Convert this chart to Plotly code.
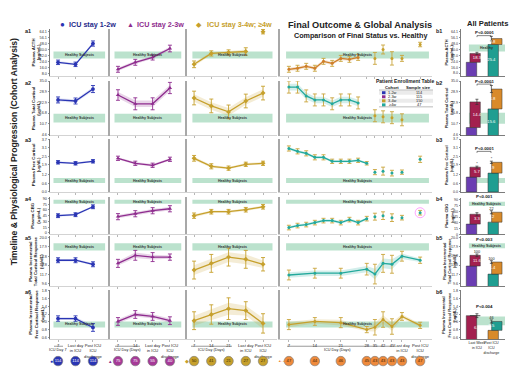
import plotly.graph_objects as go

W, H = 509, 371
FONT = "Liberation Sans"

BLUE = "#2a35b4"
PURPLE = "#8e2c8e"
GOLD = "#c6a02c"
ORANGE = "#cf7f2a"
TEAL = "#23a99c"
ERRGOLD = "#c9a53c"
CRIMSON = "#a3204f"
BARPURPLE = "#6a3db2"
BARTEAL = "#1f9e91"
BARORANGE = "#d98a2a"
BANDFILL = "rgba(150, 210, 178, 0.65)"

# ---------------- categories / ticks ----------------
x_12w = [0, 1, 2]
x_23w = [0, 1, 2, 3]
x_34w = [0, 1, 2, 3, 4]
x_final_early = [7, 9.33, 11.67, 14, 16.33, 18.67, 21, 23.33, 25.67, 28]
x_final_late = [30.2, 32.4, 34.8, 37.5, 42.4]
x_final_all = [7, 14, 21, 28, 30.2, 32.4, 34.8, 37.5, 42.4]

ticks_12w = ["7", "Last day<br>in ICU", "Post ICU<br>ICU<br>discharge"]
ticks_23w = ["7", "14", "Last day<br>in ICU", "Post ICU<br>ICU<br>discharge"]
ticks_34w = ["7", "14", "21", "Last day<br>in ICU", "Post ICU<br>ICU<br>discharge"]
ticks_final = ["7", "14", "21", "28", "35", "42", "45", "Last day<br>in ICU", "Post ICU<br>ICU<br>discharge"]
bar_categories = ["Last Week<br>in ICU", "Post ICU<br>ICU<br>discharge"]

# ---------------- a1: Plasma ACTH ----------------
acth_12w = [22.7, 20.0, 48.0]
acth_12w_err = [3, 3, 3.5]
acth_23w = [13.3, 22.7, 29.3, 41.3]
acth_23w_err = [4, 4, 3.5, 4.5]
acth_34w = [20.0, 34.7, 36.0, 37.3, 64.0]
acth_34w_err = [4.5, 3.5, 3.5, 5, 3]
acth_final = [13.3, 14.7, 17.3, 14.7, 24.0, 21.3, 28.0, 26.7, 29.3]
acth_final_err = [4, 4, 4, 4, 4, 4, 4, 4, 4]
acth_late = [28.0, 40.0, 28.0, 28.0, 46.7]
acth_late_err = [8, 6, 9, 4, 3]
acth_band = [28.0, 37.3]

# ---------------- a2: Plasma Total Cortisol ----------------
tc_12w = [24.3, 23.7, 30.5]
tc_12w_err = [1.7, 1.7, 2.0]
tc_23w = [27.1, 22.1, 22.1, 31.1]
tc_23w_err = [3.0, 3.4, 3.4, 3.2]
tc_34w = [25.4, 20.9, 17.5, 23.7, 28.2]
tc_34w_err = [3.9, 3.9, 3.9, 3.9, 3.9]
tc_final = [31.6, 31.6, 26.6, 24.3, 24.3, 22.1, 24.3, 24.3, 22.6]
tc_final_err = [3.4, 3.4, 3.4, 3.4, 3.4, 3.4, 3.4, 3.4, 3.4]
tc_late = [15.3, 14.7, 14.2, 13.0]
tc_late_err = [3.4, 3.4, 3.4, 3.4]
tc_band = [11.4, 16.4]

# ---------------- a3: Plasma Free Cortisol ----------------
fc_12w = [2.08, 2.01, 2.15]
fc_12w_err = [0.12, 0.12, 0.12]
fc_23w = [2.36, 2.01, 1.87, 2.29]
fc_23w_err = [0.15, 0.15, 0.15, 0.15]
fc_34w = [2.36, 1.80, 1.67, 1.94, 2.01]
fc_34w_err = [0.2, 0.18, 0.15, 0.15, 0.15]
fc_final = [3.05, 2.85, 2.71, 2.43, 2.43, 2.15, 2.15, 2.15, 2.22, 2.01]
fc_final_err = [0.18, 0.18, 0.18, 0.18, 0.18, 0.15, 0.15, 0.15, 0.15, 0.12]
fc_late = [1.39, 1.46, 1.32, 1.39, 2.29]
fc_late_err = [0.18, 0.28, 0.2, 0.15, 0.22]
fc_band = [0.63, 0.97]

# ---------------- a4: Plasma CBG ----------------
cbg_12w = [45.0, 47.6, 68.2]
cbg_12w_err = [5, 5, 5]
cbg_23w = [42.4, 50.1, 57.9, 63.0]
cbg_23w_err = [8, 8, 8, 8]
cbg_34w = [45.0, 55.3, 55.3, 60.5, 68.2]
cbg_34w_err = [7, 6, 6, 6, 6]
cbg_final = [14.0, 19.2, 21.8, 26.9, 32.1, 32.1, 26.9, 34.7, 26.9, 37.2]
cbg_final_err = [6, 6, 6, 6, 6, 6, 6, 6, 6, 6]
cbg_late = [42.4, 45.0, 39.8, 39.8, 52.7]
cbg_late_err = [9, 10, 10, 6, 6]
cbg_band = [75.9, 86.3]

# ---------------- a5: Incremental Total Cortisol Response ----------------
itc_12w = [14.9, 14.9, 14.0]
itc_12w_err = [0.55, 0.55, 0.55]
itc_23w = [14.2, 16.0, 15.6, 15.6]
itc_23w_err = [0.9, 1.1, 1.0, 0.7]
itc_34w = [12.7, 14.2, 15.6, 15.1, 14.0]
itc_34w_err = [2.0, 2.0, 2.0, 2.0, 1.5]
itc_final = [11.6, 12.0, 12.0, 12.9, 11.8, 14.2, 14.0, 15.8, 14.9]
itc_final_err = [1.1, 1.1, 1.1, 1.3, 2.2, 2.0, 2.0, 1.1, 0.7]
itc_band = [17.1, 18.7]

# ---------------- a6: Incremental Free Cortisol Response ----------------
ifc_12w = [1.085, 1.085, 0.855]
ifc_12w_err = [0.07, 0.07, 0.1]
ifc_23w = [1.01, 1.19, 1.14, 1.03]
ifc_23w_err = [0.1, 0.1, 0.1, 0.1]
ifc_34w = [1.03, 1.19, 1.34, 1.29, 0.96]
ifc_34w_err = [0.23, 0.25, 0.28, 0.23, 0.25]
ifc_final = [0.93, 1.01, 0.98, 0.80, 0.86, 1.06, 0.88, 1.14, 0.91]
ifc_final_err = [0.13, 0.1, 0.13, 0.08, 0.2, 0.2, 0.2, 0.1, 0.08]
ifc_band = [0.855, 1.01]

# ---------------- b: All patients bars ----------------
bar_last_week_lower = [22.7, 8.6, 1.04, 27.0, 13.6, 1.16]
bar_last_week_top = [34.7, 23.2, 1.74, 52.7, 16.0, 1.16]
bar_last_week_err = [1.5, 1.5, 0.07, 4, 0.3, 0.05]
bar_post_lower = [46.7, 19.2, 1.32, 32.1, 11.8, 0.78]
bar_post_top = [54.7, 30.5, 2.08, 57.9, 14.5, 1.01]
bar_post_err = [3, 2, 0.08, 4, 0.3, 0.04]
bar_last_week_labels = ["18.3", "14.4", "5.7", "3.3", "11.6", "6.3"]
bar_post_upper_labels = ["22.8", "21.8", "5.9", "4.2", "11.4", "5.5"]
bar_post_lower_labels = ["25.4", "15.6", "", "", "", ""]
bar_marks_last = ["", "", "*", "", "100", ""]
bar_marks_post = ["*", "*", "*", "22", "100", "46"]
p_values = ["P<0.0001", "P<0.0001", "P<0.0001", "P<0.001", "P<0.003", "P<0.004"]
b_bands = [[37.3, 46.7], [10.8, 17.0], [0.63, 0.97], [74.0, 85.0], [17.6, 18.7], [0.91, 1.14]]
b_band_labels = ["Healthy", "", "", "Healthy Subjects", "Healthy Subjects", ""]

# ---------------- sample sizes ----------------
n_12w = ["114", "114", "114"]
n_23w = ["75", "75", "55", "40"]
n_34w = ["50", "41", "21", "27", "27"]
n_final = ["47", "44", "46", "45", "43", "43", "43", "43", "47"]

enroll_cohorts = ["1-2w", "2-3w", "3-4w", "≥4w"]
enroll_sizes = ["114", "115", "150", "47"]

row_ids = ["a1", "a2", "a3", "a4", "a5", "a6"]
row_titles = ["Plasma ACTH<br>(pg/mL)", "Plasma Total Cortisol<br>(ug/dL)", "Plasma Free Cortisol<br>(ug/dL)",
              "Plasma CBG<br>(ug/mL)", "Plasma Incremental<br>Total Cortisol Response<br>(ug/dL)",
              "Plasma Incremental<br>Free Cortisol Response<br>(ug/dL)"]
b_titles = ["Plasma ACTH<br>(pg/mL)", "Plasma Total Cortisol<br>(ug/dL)", "Plasma Free Cortisol<br>(ug/dL)",
            "Plasma CBG<br>(ug/mL)", "Plasma Incremental<br>Total Cortisol Response<br>(ug/dL)",
            "Plasma Incremental<br>Free Cortisol Response<br>(ug/dL)"]

# ---------------- layout geometry (pixels) ----------------
ROW_PX = [(27, 75), (80, 135), (138, 192), (197, 235), (237, 287), (291, 341)]
Y_RANGES = [[4, 68], [4.04, 35.0], [0, 3.75], [-4, 94], [9.16, 20.22], [0.549, 1.826]]
Y_TICKS = [[8.0, 16.0, 24.0, 32.0, 40.0, 48.0, 56.1, 64.1],
           [4.6, 10.7, 16.8, 22.9, 28.9, 35.0],
           [0.0, 0.6, 1.2, 1.9, 2.5, 3.1, 3.7],
           [0, 15, 30, 45, 60, 75, 90],
           [9.6, 11.7, 13.8, 15.8, 17.9, 20.0],
           [0.6, 0.8, 1.0, 1.2, 1.4, 1.6, 1.8]]
COLS = [(50, 108, [-0.46, 2.86], x_12w, ticks_12w),
        (110, 185, [-0.46, 3.87], x_23w, ticks_23w),
        (187, 277, [-0.41, 4.81], x_34w, ticks_34w),
        (280, 432, [4.6, 45.6], x_final_all, ticks_final)]
BARCOL = (461, 505, [-1.10, 1.94])

layout = dict(width=W, height=H, margin=dict(l=0, r=0, t=0, b=0),
              paper_bgcolor="white", plot_bgcolor="white", showlegend=False,
              font=dict(family=FONT, size=5, color="#222"))
annotations = []
shapes = []
fig = go.Figure()
counter = [0]


def rgba(hx, a):
    hx = hx.lstrip("#")
    return "rgba(%d,%d,%d,%.2f)" % (int(hx[0:2], 16), int(hx[2:4], 16), int(hx[4:6], 16), a)


def new_axes(xpx, ypx, xrange, yrange, xopts=None, yopts=None):
    counter[0] += 1
    n = counter[0]
    xa = "xaxis" if n == 1 else "xaxis%d" % n
    ya = "yaxis" if n == 1 else "yaxis%d" % n
    xr = "x" if n == 1 else "x%d" % n
    yr = "y" if n == 1 else "y%d" % n
    xd = dict(domain=[xpx[0] / W, xpx[1] / W], range=xrange, anchor=yr, showgrid=False,
              zeroline=False, showticklabels=False, ticks="", tickangle=0)
    yd = dict(domain=[1 - ypx[1] / H, 1 - ypx[0] / H], range=yrange, anchor=xr, showgrid=False,
              zeroline=False, showticklabels=False, ticks="")
    xd.update(xopts or {})
    yd.update(yopts or {})
    layout[xa] = xd
    layout[ya] = yd
    return xr, yr


def A(xp, yp, text, size=5, color="#222", bold=False, angle=0, xanchor="center", yanchor="middle"):
    annotations.append(dict(x=xp / W, y=1 - yp / H, xref="paper", yref="paper",
                            text=("<b>%s</b>" % text) if bold else text, showarrow=False,
                            font=dict(size=size, color=color, family=FONT), textangle=angle,
                            xanchor=xanchor, yanchor=yanchor, borderpad=0))


def L(x0, y0, x1, y1, color="#444", width=0.8):
    shapes.append(dict(type="line", xref="paper", yref="paper", x0=x0 / W, x1=x1 / W,
                       y0=1 - y0 / H, y1=1 - y1 / H, line=dict(color=color, width=width)))


def series(xr, yr, xs, ys, es, color, symbol, size, ecolor, lw=1.3, band=0.18, mode="lines+markers"):
    if band and len(xs) > 1:
        up = [y + 0.55 * e for y, e in zip(ys, es)]
        lo = [y - 0.55 * e for y, e in zip(ys, es)]
        fig.add_trace(go.Scatter(x=list(xs) + list(xs)[::-1], y=up + lo[::-1], fill="toself",
                                 fillcolor=rgba(color, band), line=dict(width=0), mode="lines",
                                 xaxis=xr, yaxis=yr, hoverinfo="skip"))
    fig.add_trace(go.Scatter(x=xs, y=ys, mode=mode, line=dict(color=color, width=lw),
                             marker=dict(symbol=symbol, size=size, color=color),
                             error_y=dict(type="data", array=es, color=ecolor, thickness=0.9, width=2),
                             xaxis=xr, yaxis=yr))


def health_band(xr, yr, lo, hi, label, x0=0.06, x1=0.95):
    shapes.append(dict(type="rect", xref=xr + " domain", yref=yr, x0=x0, x1=x1, y0=lo, y1=hi,
                       fillcolor=BANDFILL, line=dict(width=0), layer="below"))
    if label:
        annotations.append(dict(x=(x0 + x1) / 2, y=(lo + hi) / 2, xref=xr + " domain", yref=yr,
                                text="<b>%s</b>" % label, showarrow=False,
                                font=dict(size=3.6, color="#333", family=FONT)))


ROWDATA = [
    dict(v=[acth_12w, acth_23w, acth_34w[:4]], e=[acth_12w_err, acth_23w_err, acth_34w_err[:4]],
         fin=acth_final, fin_e=acth_final_err, fin_x=x_final_early[:9], fin_c=ORANGE,
         late=acth_late, late_e=acth_late_err, late_x=x_final_late, late_c=GOLD, band=acth_band),
    dict(v=[tc_12w, tc_23w, tc_34w], e=[tc_12w_err, tc_23w_err, tc_34w_err],
         fin=tc_final, fin_e=tc_final_err, fin_x=x_final_early[:9], fin_c=TEAL,
         late=tc_late, late_e=tc_late_err, late_x=x_final_late[:4], late_c=GOLD, band=tc_band),
    dict(v=[fc_12w, fc_23w, fc_34w], e=[fc_12w_err, fc_23w_err, fc_34w_err],
         fin=fc_final, fin_e=fc_final_err, fin_x=x_final_early, fin_c=TEAL,
         late=fc_late, late_e=fc_late_err, late_x=x_final_late, late_c=TEAL, band=fc_band),
    dict(v=[cbg_12w, cbg_23w, cbg_34w], e=[cbg_12w_err, cbg_23w_err, cbg_34w_err],
         fin=cbg_final, fin_e=cbg_final_err, fin_x=x_final_early, fin_c=TEAL,
         late=cbg_late, late_e=cbg_late_err, late_x=x_final_late, late_c=TEAL, band=cbg_band),
    dict(v=[itc_12w, itc_23w, itc_34w], e=[itc_12w_err, itc_23w_err, itc_34w_err],
         fin=itc_final, fin_e=itc_final_err, fin_x=x_final_all, fin_c=TEAL,
         late=None, band=itc_band),
    dict(v=[ifc_12w, ifc_23w, ifc_34w], e=[ifc_12w_err, ifc_23w_err, ifc_34w_err],
         fin=ifc_final, fin_e=ifc_final_err, fin_x=x_final_all, fin_c=GOLD,
         late=None, band=ifc_band),
]

COH_COLORS = [BLUE, PURPLE, GOLD]
COH_SYMBOLS = ["circle", "triangle-up", "diamond"]

for r, (ytop, ybot) in enumerate(ROW_PX):
    rd = ROWDATA[r]
    last = (r == 5)
    for c, (x0p, x1p, xrng, xt, tt) in enumerate(COLS):
        xopts = dict(showline=True, linecolor="#c8c8c8", linewidth=0.8, ticks="outside", ticklen=2,
                     tickcolor="#999", tickwidth=0.7, tickvals=xt, ticktext=tt, tickangle=0,
                     showticklabels=last, tickfont=dict(size=4.1, color="#222", family=FONT))
        if c == 0:
            yopts = dict(showline=True, linecolor="#555", linewidth=0.8, ticks="outside", ticklen=1.5,
                         tickcolor="#555", tickwidth=0.6, tickvals=Y_TICKS[r], showticklabels=True,
                         tickformat=".1f" if r not in (3,) else "d",
                         tickfont=dict(size=3.8, color="#333", family=FONT))
        else:
            yopts = dict(showline=True, linecolor="#a8a8a8", linewidth=1.6)
        xr, yr = new_axes((x0p, x1p), (ytop, ybot), xrng, Y_RANGES[r], xopts, yopts)
        if c < 3:
            health_band(xr, yr, rd["band"][0], rd["band"][1], "Healthy Subjects")
            series(xr, yr, COLS[c][3][:len(rd["v"][c])], rd["v"][c], rd["e"][c], COH_COLORS[c],
                   COH_SYMBOLS[c], 3.8, COH_COLORS[c], band=0.13 if c == 0 else 0.2)
            if r == 0 and c == 2:
                series(xr, yr, [x_34w[4]], [acth_34w[4]], [acth_34w_err[4]], GOLD, "diamond", 3.8,
                       GOLD, band=0, mode="markers")
        else:
            health_band(xr, yr, rd["band"][0], rd["band"][1], "Healthy Subjects", 0.04, 0.98)
            series(xr, yr, rd["fin_x"], rd["fin"], rd["fin_e"], rd["fin_c"], "circle", 3, ERRGOLD,
                   band=0.2)
            if rd["late"] is not None:
                series(xr, yr, rd["late_x"], rd["late"], rd["late_e"], rd["late_c"], "circle", 3,
                       ERRGOLD, band=0, mode="markers")
            if r == 3:
                fig.add_trace(go.Scatter(x=[x_final_late[4]], y=[cbg_late[4]], mode="markers",
                                         marker=dict(symbol="circle-open", size=10,
                                                     line=dict(color="#6aa8d8", width=0.9)),
                                         xaxis=xr, yaxis=yr))
    # row labels and y titles
    A(28, ytop + 2, row_ids[r], size=5.5, bold=True)
    A(36, (ytop + ybot) / 2, row_titles[r], size=4.3, bold=True, angle=-90)

    # ---- bar panel ----
    b_ytop = ytop if r != 3 else 198.5
    b_range = Y_RANGES[r] if r != 3 else [0, 94]
    xopts = dict(showline=True, linecolor="#444", linewidth=0.7, tickvals=[0, 1], ticktext=bar_categories,
                 showticklabels=last, tickangle=0, tickfont=dict(size=3.6, color="#222", family=FONT), ticks="")
    yopts = dict(showline=True, linecolor="#444", linewidth=0.7, ticks="outside", ticklen=1.5,
                 tickcolor="#444", tickwidth=0.6, tickvals=Y_TICKS[r], showticklabels=True,
                 tickformat=".1f" if r != 3 else "d", tickfont=dict(size=3.6, color="#333", family=FONT))
    xr, yr = new_axes((BARCOL[0], BARCOL[1]), (b_ytop, ybot), BARCOL[2], b_range, xopts, yopts)
    health_band(xr, yr, b_bands[r][0], b_bands[r][1], b_band_labels[r], 0.18, 1.0)
    lw_low_color = CRIMSON if r == 5 else BARPURPLE
    post_low_color = BARORANGE if r == 5 else BARTEAL
    post_up_color = BARTEAL if r == 5 else BARORANGE
    fig.add_trace(go.Bar(x=[0], y=[bar_last_week_lower[r]], width=0.72, marker=dict(color=lw_low_color, line=dict(width=0.5, color="#333")), xaxis=xr, yaxis=yr))
    fig.add_trace(go.Bar(x=[0], y=[bar_last_week_top[r] - bar_last_week_lower[r]], base=[bar_last_week_lower[r]], width=0.72,
                         marker=dict(color=CRIMSON, line=dict(width=0.5, color="#333")), xaxis=xr, yaxis=yr))
    fig.add_trace(go.Bar(x=[1], y=[bar_post_lower[r]], width=0.72, marker=dict(color=post_low_color, line=dict(width=0.5, color="#333")), xaxis=xr, yaxis=yr))
    fig.add_trace(go.Bar(x=[1], y=[bar_post_top[r] - bar_post_lower[r]], base=[bar_post_lower[r]], width=0.72,
                         marker=dict(color=post_up_color, line=dict(width=0.5, color="#333")), xaxis=xr, yaxis=yr))
    fig.add_trace(go.Scatter(x=[0, 1], y=[bar_last_week_top[r], bar_post_top[r]], mode="markers",
                             marker=dict(size=0.1, color="rgba(0,0,0,0)"),
                             error_y=dict(type="data", array=[bar_last_week_err[r], bar_post_err[r]],
                                          color="#333", thickness=0.7, width=1.5), xaxis=xr, yaxis=yr))
    if r == 5:
        lw_mid = (bar_last_week_top[r] + b_range[0]) / 2
    else:
        lw_mid = (bar_last_week_top[r] + bar_last_week_lower[r]) / 2
    post_up_mid = (bar_post_top[r] + bar_post_lower[r]) / 2
    txt_x, txt_y, txt_t = [0, 1], [lw_mid, post_up_mid], [bar_last_week_labels[r], bar_post_upper_labels[r]]
    if bar_post_lower_labels[r]:
        txt_x.append(1)
        txt_y.append((bar_post_lower[r] + b_range[0]) / 2)
        txt_t.append(bar_post_lower_labels[r])
    fig.add_trace(go.Scatter(x=txt_x, y=txt_y, text=txt_t, mode="text",
                             textfont=dict(size=4.2, color="white", family=FONT), xaxis=xr, yaxis=yr))
    mk_x, mk_y, mk_t = [], [], []
    if bar_marks_last[r]:
        mk_x.append(0); mk_y.append(bar_last_week_top[r] + bar_last_week_err[r]); mk_t.append(bar_marks_last[r])
    if bar_marks_post[r]:
        mk_x.append(1); mk_y.append(bar_post_top[r] + bar_post_err[r]); mk_t.append(bar_marks_post[r])
    fig.add_trace(go.Scatter(x=mk_x, y=mk_y, text=mk_t, mode="text", textposition="top center",
                             textfont=dict(size=3.8, color="#222", family=FONT), xaxis=xr, yaxis=yr))
    A(439, ytop + 2, "b%d" % (r + 1), size=5.5, bold=True)
    A(449, (ytop + ybot) / 2, b_titles[r], size=4.0, bold=True, angle=-90)

# p-values
P_Y = [31, 80, 148, 197, 240, 308]
for r in range(6):
    A(484, P_Y[r], p_values[r], size=4.4, bold=True)
    if r < 3:
        L(477, P_Y[r] + 3, 491, P_Y[r] + 3, "#333", 0.6)
        L(477, P_Y[r] + 3, 477, P_Y[r] + 4.5, "#333", 0.6)
        L(491, P_Y[r] + 3, 491, P_Y[r] + 4.5, "#333", 0.6)

# ---- sample size circles row ----
CIRC = [(x_12w, n_12w, BLUE, "white"), (x_23w, n_23w, "#a63a98", "white"),
        (x_34w, n_34w, GOLD, "#3a2a00"), (x_final_all, n_final, "#ef8a3c", "#3a1a00")]
for c, (xs, ns, col, tcol) in enumerate(CIRC):
    xr, yr = new_axes((COLS[c][0], COLS[c][1]), (356, 370), COLS[c][2], [0, 1],
                      dict(visible=False), dict(visible=False))
    fig.add_trace(go.Scatter(x=xs, y=[0.5] * len(xs), mode="markers+text", text=ns,
                             marker=dict(size=9.5, color=col, line=dict(width=0.6, color="#777")),
                             textfont=dict(size=4.2, color=tcol, family=FONT),
                             xaxis=xr, yaxis=yr))
A(51, 363, "●", size=5, color=BLUE)
A(110, 363, "▲", size=4.5, color=PURPLE)
A(187, 363, "◆", size=4.5, color=GOLD)
A(282, 363, "▲-▲", size=3.6, color="#ef8a3c")

# ---- x sub-labels (ICU Day) ----
L(54, 348, 63, 348, "#555", 0.6)
A(58, 351.5, "ICU Day 7", size=3.8)
L(115, 348, 140, 348, "#555", 0.6)
A(127, 351.5, "ICU Day (Days)", size=3.8)
L(191, 348, 232, 348, "#555", 0.6)
A(211, 351.5, "ICU Day (Days)", size=3.8)
L(287, 348, 394, 348, "#555", 0.6)
A(337, 351.5, "ICU Day (Days)", size=3.8)

# ---- titles & legend ----
A(14, 152, "Timeline &amp; Physiological Progression (Cohort Analysis)", size=8.6, bold=True, angle=-90)
A(62, 23, "●", size=8, color=BLUE)
A(68, 23, "ICU stay 1-2w", size=7.2, color="#1e2a8a", bold=True, xanchor="left")
A(130, 22.5, "▲", size=7, color=PURPLE)
A(136, 23, "ICU stay 2-3w", size=7.2, color=PURPLE, bold=True, xanchor="left")
A(199, 23, "◆", size=7, color=GOLD)
A(206, 23, "ICU stay 3-4w; ≥4w", size=7.2, color=GOLD, bold=True, xanchor="left")
A(360, 23, "Final Outcome &amp; Global Analysis", size=9.2, bold=True)
A(360, 34, "Comparison of Final Status vs. Healthy", size=7.2, bold=True)
A(487, 22, "All Patients", size=7.6, bold=True)

# ---- patient enrollment table ----
TX = -4
A(409 + TX, 80, "Patient Enrollment Table", size=5, bold=True)
A(396 + TX, 86.5, "Cohort", size=4.2, bold=True)
A(422 + TX, 86.5, "Sample size", size=4.2, bold=True)
L(383 + TX, 89, 437 + TX, 89, "#777", 0.5)
TAB_COLORS = [BLUE, PURPLE, GOLD, TEAL]
for i, (coh, sz) in enumerate(zip(enroll_cohorts, enroll_sizes)):
    yy = 91.7 + i * 4.1
    if i % 2 == 0:
        shapes.append(dict(type="rect", xref="paper", yref="paper", x0=(383 + TX) / W, x1=(437 + TX) / W,
                           y0=1 - (yy + 2) / H, y1=1 - (yy - 2) / H, fillcolor="#ebebeb",
                           line=dict(width=0), layer="below"))
    shapes.append(dict(type="rect", xref="paper", yref="paper", x0=(386 + TX) / W, x1=(389.5 + TX) / W,
                       y0=1 - (yy + 1.5) / H, y1=1 - (yy - 1.5) / H, fillcolor=TAB_COLORS[i],
                       line=dict(width=0)))
    A(396 + TX, yy, coh, size=3.9)
    A(423 + TX, yy, sz, size=3.9)
L(383 + TX, 106, 437 + TX, 106, "#777", 0.5)

layout["annotations"] = annotations
layout["shapes"] = shapes
layout["bargap"] = 0
fig.update_layout(**layout)
fig.write_html("out.html", config={"displayModeBar": False, "staticPlot": True},
               post_script="document.body.style.margin='0';document.body.style.padding='0';")
